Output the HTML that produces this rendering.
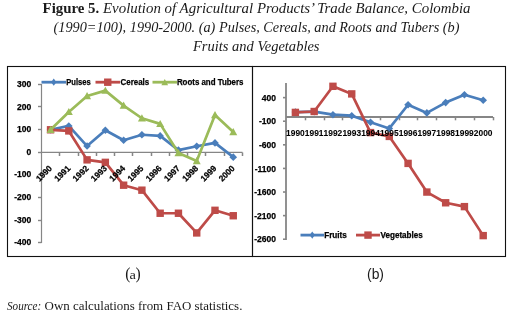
<!DOCTYPE html>
<html><head><meta charset="utf-8"><style>
html,body{margin:0;padding:0;background:#fff;width:511px;height:317px;overflow:hidden}
svg{display:block;will-change:transform}
</style></head><body>
<svg width="511" height="317" viewBox="0 0 511 317">
<rect x="7.5" y="66.5" width="245" height="190" fill="none" stroke="#111" stroke-width="1.1"/>
<rect x="252.5" y="66.5" width="253" height="190" fill="none" stroke="#111" stroke-width="1.1"/>
<text x="42.6" y="12.8" style="font-family:'Liberation Serif',serif;fill:#1a1a1a;font-weight:bold;font-size:14.5px" textLength="56.6" lengthAdjust="spacingAndGlyphs">Figure 5.</text>
<text x="103" y="12.8" style="font-family:'Liberation Serif',serif;fill:#1a1a1a;font-style:italic;font-size:14.5px" textLength="367.5" lengthAdjust="spacingAndGlyphs">Evolution of Agricultural Products’ Trade Balance, Colombia</text>
<text x="53.5" y="31.9" style="font-family:'Liberation Serif',serif;fill:#1a1a1a;font-style:italic;font-size:14.5px" textLength="406" lengthAdjust="spacingAndGlyphs">(1990=100), 1990-2000. (a) Pulses, Cereals, and Roots and Tubers (b)</text>
<text x="193" y="50.8" style="font-family:'Liberation Serif',serif;fill:#1a1a1a;font-style:italic;font-size:14.5px" textLength="126.5" lengthAdjust="spacingAndGlyphs">Fruits and Vegetables</text>
<text x="125.3" y="278.9" style="font-family:'Liberation Serif',serif;fill:#1a1a1a;font-size:16.5px" textLength="5.2" lengthAdjust="spacingAndGlyphs">(</text>
<text x="129.6" y="278.9" style="font-family:'Liberation Serif',serif;fill:#1a1a1a;font-size:13.2px" textLength="6.4" lengthAdjust="spacingAndGlyphs">a</text>
<text x="135.6" y="278.9" style="font-family:'Liberation Serif',serif;fill:#1a1a1a;font-size:16.5px" textLength="5.2" lengthAdjust="spacingAndGlyphs">)</text>
<text x="367" y="278.5" style="font-family:'Liberation Sans',sans-serif;fill:#1a1a1a;font-size:15.5px" textLength="17" lengthAdjust="spacingAndGlyphs">(b)</text>
<text x="7" y="309.7" style="font-family:'Liberation Serif',serif;fill:#1a1a1a;font-size:12.7px;font-style:italic" textLength="34.2" lengthAdjust="spacingAndGlyphs">Source:</text>
<text x="44.6" y="309.7" style="font-family:'Liberation Serif',serif;fill:#1a1a1a;font-size:12.7px" textLength="197.8" lengthAdjust="spacingAndGlyphs">Own calculations from FAO statistics.</text>
<line x1="41.5" y1="84" x2="41.5" y2="243" stroke="#868686" stroke-width="1.2"/>
<line x1="38" y1="84.5" x2="41.5" y2="84.5" stroke="#868686" stroke-width="1.4"/>
<text x="31.3" y="86.94" text-anchor="end" style="font-family:'Liberation Sans',sans-serif;font-weight:bold;fill:#000;font-size:8.5px;stroke:#000;stroke-width:0.25px">300</text>
<line x1="38" y1="106.5" x2="41.5" y2="106.5" stroke="#868686" stroke-width="1.4"/>
<text x="31.3" y="109.56" text-anchor="end" style="font-family:'Liberation Sans',sans-serif;font-weight:bold;fill:#000;font-size:8.5px;stroke:#000;stroke-width:0.25px">200</text>
<line x1="38" y1="129.5" x2="41.5" y2="129.5" stroke="#868686" stroke-width="1.4"/>
<text x="31.3" y="132.18" text-anchor="end" style="font-family:'Liberation Sans',sans-serif;font-weight:bold;fill:#000;font-size:8.5px;stroke:#000;stroke-width:0.25px">100</text>
<line x1="38" y1="152.5" x2="41.5" y2="152.5" stroke="#868686" stroke-width="1.4"/>
<text x="31.3" y="154.80" text-anchor="end" style="font-family:'Liberation Sans',sans-serif;font-weight:bold;fill:#000;font-size:8.5px;stroke:#000;stroke-width:0.25px">0</text>
<line x1="38" y1="174.5" x2="41.5" y2="174.5" stroke="#868686" stroke-width="1.4"/>
<text x="31.3" y="177.42" text-anchor="end" style="font-family:'Liberation Sans',sans-serif;font-weight:bold;fill:#000;font-size:8.5px;stroke:#000;stroke-width:0.25px">-100</text>
<line x1="38" y1="197.5" x2="41.5" y2="197.5" stroke="#868686" stroke-width="1.4"/>
<text x="31.3" y="200.04" text-anchor="end" style="font-family:'Liberation Sans',sans-serif;font-weight:bold;fill:#000;font-size:8.5px;stroke:#000;stroke-width:0.25px">-200</text>
<line x1="38" y1="220.5" x2="41.5" y2="220.5" stroke="#868686" stroke-width="1.4"/>
<text x="31.3" y="222.66" text-anchor="end" style="font-family:'Liberation Sans',sans-serif;font-weight:bold;fill:#000;font-size:8.5px;stroke:#000;stroke-width:0.25px">-300</text>
<line x1="38" y1="242.5" x2="41.5" y2="242.5" stroke="#868686" stroke-width="1.4"/>
<text x="31.3" y="245.28" text-anchor="end" style="font-family:'Liberation Sans',sans-serif;font-weight:bold;fill:#000;font-size:8.5px;stroke:#000;stroke-width:0.25px">-400</text>
<line x1="41" y1="152.4" x2="242.5" y2="152.4" stroke="#868686" stroke-width="1.3"/>
<line x1="59.5" y1="152.5" x2="59.5" y2="156" stroke="#868686" stroke-width="1.5"/>
<line x1="78.5" y1="152.5" x2="78.5" y2="156" stroke="#868686" stroke-width="1.5"/>
<line x1="96.5" y1="152.5" x2="96.5" y2="156" stroke="#868686" stroke-width="1.5"/>
<line x1="114.5" y1="152.5" x2="114.5" y2="156" stroke="#868686" stroke-width="1.5"/>
<line x1="132.5" y1="152.5" x2="132.5" y2="156" stroke="#868686" stroke-width="1.5"/>
<line x1="151.5" y1="152.5" x2="151.5" y2="156" stroke="#868686" stroke-width="1.5"/>
<line x1="169.5" y1="152.5" x2="169.5" y2="156" stroke="#868686" stroke-width="1.5"/>
<line x1="187.5" y1="152.5" x2="187.5" y2="156" stroke="#868686" stroke-width="1.5"/>
<line x1="205.5" y1="152.5" x2="205.5" y2="156" stroke="#868686" stroke-width="1.5"/>
<line x1="224.5" y1="152.5" x2="224.5" y2="156" stroke="#868686" stroke-width="1.5"/>
<line x1="242.5" y1="152.5" x2="242.5" y2="156" stroke="#868686" stroke-width="1.5"/>
<polyline points="50.54,129.78 68.81,125.93 87.08,146.07 105.35,130.23 123.63,140.19 141.90,134.76 160.17,135.89 178.45,150.14 196.72,146.29 214.99,142.90 233.26,157.15" fill="none" stroke="#4a7ebb" stroke-width="2.7" stroke-linejoin="round" stroke-linecap="round"/>
<path d="M50.54 125.98L54.34 129.78L50.54 133.58L46.74 129.78Z" fill="#4a7ebb"/>
<path d="M68.81 122.13L72.61 125.93L68.81 129.73L65.01 125.93Z" fill="#4a7ebb"/>
<path d="M87.08 142.27L90.88 146.07L87.08 149.87L83.28 146.07Z" fill="#4a7ebb"/>
<path d="M105.35 126.43L109.15 130.23L105.35 134.03L101.55 130.23Z" fill="#4a7ebb"/>
<path d="M123.63 136.39L127.43 140.19L123.63 143.99L119.83 140.19Z" fill="#4a7ebb"/>
<path d="M141.90 130.96L145.70 134.76L141.90 138.56L138.10 134.76Z" fill="#4a7ebb"/>
<path d="M160.17 132.09L163.97 135.89L160.17 139.69L156.37 135.89Z" fill="#4a7ebb"/>
<path d="M178.45 146.34L182.25 150.14L178.45 153.94L174.65 150.14Z" fill="#4a7ebb"/>
<path d="M196.72 142.49L200.52 146.29L196.72 150.09L192.92 146.29Z" fill="#4a7ebb"/>
<path d="M214.99 139.10L218.79 142.90L214.99 146.70L211.19 142.90Z" fill="#4a7ebb"/>
<path d="M233.26 153.35L237.06 157.15L233.26 160.95L229.46 157.15Z" fill="#4a7ebb"/>
<polyline points="50.54,129.78 68.81,130.91 87.08,159.86 105.35,162.35 123.63,185.20 141.90,190.18 160.17,213.25 178.45,213.25 196.72,232.93 214.99,210.31 233.26,215.74" fill="none" stroke="#be4b48" stroke-width="2.7" stroke-linejoin="round" stroke-linecap="round"/>
<rect x="46.84" y="126.08" width="7.40" height="7.40" fill="#be4b48"/>
<rect x="65.11" y="127.21" width="7.40" height="7.40" fill="#be4b48"/>
<rect x="83.38" y="156.16" width="7.40" height="7.40" fill="#be4b48"/>
<rect x="101.65" y="158.65" width="7.40" height="7.40" fill="#be4b48"/>
<rect x="119.93" y="181.50" width="7.40" height="7.40" fill="#be4b48"/>
<rect x="138.20" y="186.48" width="7.40" height="7.40" fill="#be4b48"/>
<rect x="156.47" y="209.55" width="7.40" height="7.40" fill="#be4b48"/>
<rect x="174.75" y="209.55" width="7.40" height="7.40" fill="#be4b48"/>
<rect x="193.02" y="229.23" width="7.40" height="7.40" fill="#be4b48"/>
<rect x="211.29" y="206.61" width="7.40" height="7.40" fill="#be4b48"/>
<rect x="229.56" y="212.04" width="7.40" height="7.40" fill="#be4b48"/>
<polyline points="50.54,129.78 68.81,111.91 87.08,96.08 105.35,90.65 123.63,105.58 141.90,118.24 160.17,123.90 178.45,153.08 196.72,161.00 214.99,115.08 233.26,132.04" fill="none" stroke="#9bbb59" stroke-width="2.7" stroke-linejoin="round" stroke-linecap="round"/>
<path d="M50.54 125.78L54.54 132.98L46.54 132.98Z" fill="#9bbb59"/>
<path d="M68.81 107.91L72.81 115.11L64.81 115.11Z" fill="#9bbb59"/>
<path d="M87.08 92.08L91.08 99.28L83.08 99.28Z" fill="#9bbb59"/>
<path d="M105.35 86.65L109.35 93.85L101.35 93.85Z" fill="#9bbb59"/>
<path d="M123.63 101.58L127.63 108.78L119.63 108.78Z" fill="#9bbb59"/>
<path d="M141.90 114.24L145.90 121.44L137.90 121.44Z" fill="#9bbb59"/>
<path d="M160.17 119.90L164.17 127.10L156.17 127.10Z" fill="#9bbb59"/>
<path d="M178.45 149.08L182.45 156.28L174.45 156.28Z" fill="#9bbb59"/>
<path d="M196.72 157.00L200.72 164.20L192.72 164.20Z" fill="#9bbb59"/>
<path d="M214.99 111.08L218.99 118.28L210.99 118.28Z" fill="#9bbb59"/>
<path d="M233.26 128.04L237.26 135.24L229.26 135.24Z" fill="#9bbb59"/>
<text x="0" y="0" text-anchor="end" transform="translate(52.64,169.00) rotate(-45)" style="font-family:'Liberation Sans',sans-serif;font-weight:bold;fill:#000;font-size:8.5px;stroke:#000;stroke-width:0.25px" textLength="18.5" lengthAdjust="spacingAndGlyphs">1990</text>
<text x="0" y="0" text-anchor="end" transform="translate(70.91,169.00) rotate(-45)" style="font-family:'Liberation Sans',sans-serif;font-weight:bold;fill:#000;font-size:8.5px;stroke:#000;stroke-width:0.25px" textLength="18.5" lengthAdjust="spacingAndGlyphs">1991</text>
<text x="0" y="0" text-anchor="end" transform="translate(89.18,169.00) rotate(-45)" style="font-family:'Liberation Sans',sans-serif;font-weight:bold;fill:#000;font-size:8.5px;stroke:#000;stroke-width:0.25px" textLength="18.5" lengthAdjust="spacingAndGlyphs">1992</text>
<text x="0" y="0" text-anchor="end" transform="translate(107.45,169.00) rotate(-45)" style="font-family:'Liberation Sans',sans-serif;font-weight:bold;fill:#000;font-size:8.5px;stroke:#000;stroke-width:0.25px" textLength="18.5" lengthAdjust="spacingAndGlyphs">1993</text>
<text x="0" y="0" text-anchor="end" transform="translate(125.73,169.00) rotate(-45)" style="font-family:'Liberation Sans',sans-serif;font-weight:bold;fill:#000;font-size:8.5px;stroke:#000;stroke-width:0.25px" textLength="18.5" lengthAdjust="spacingAndGlyphs">1994</text>
<text x="0" y="0" text-anchor="end" transform="translate(144.00,169.00) rotate(-45)" style="font-family:'Liberation Sans',sans-serif;font-weight:bold;fill:#000;font-size:8.5px;stroke:#000;stroke-width:0.25px" textLength="18.5" lengthAdjust="spacingAndGlyphs">1995</text>
<text x="0" y="0" text-anchor="end" transform="translate(162.27,169.00) rotate(-45)" style="font-family:'Liberation Sans',sans-serif;font-weight:bold;fill:#000;font-size:8.5px;stroke:#000;stroke-width:0.25px" textLength="18.5" lengthAdjust="spacingAndGlyphs">1996</text>
<text x="0" y="0" text-anchor="end" transform="translate(180.55,169.00) rotate(-45)" style="font-family:'Liberation Sans',sans-serif;font-weight:bold;fill:#000;font-size:8.5px;stroke:#000;stroke-width:0.25px" textLength="18.5" lengthAdjust="spacingAndGlyphs">1997</text>
<text x="0" y="0" text-anchor="end" transform="translate(198.82,169.00) rotate(-45)" style="font-family:'Liberation Sans',sans-serif;font-weight:bold;fill:#000;font-size:8.5px;stroke:#000;stroke-width:0.25px" textLength="18.5" lengthAdjust="spacingAndGlyphs">1998</text>
<text x="0" y="0" text-anchor="end" transform="translate(217.09,169.00) rotate(-45)" style="font-family:'Liberation Sans',sans-serif;font-weight:bold;fill:#000;font-size:8.5px;stroke:#000;stroke-width:0.25px" textLength="18.5" lengthAdjust="spacingAndGlyphs">1999</text>
<text x="0" y="0" text-anchor="end" transform="translate(235.36,169.00) rotate(-45)" style="font-family:'Liberation Sans',sans-serif;font-weight:bold;fill:#000;font-size:8.5px;stroke:#000;stroke-width:0.25px" textLength="18.5" lengthAdjust="spacingAndGlyphs">2000</text>
<line x1="41.5" y1="82.2" x2="66" y2="82.2" stroke="#4a7ebb" stroke-width="2.8"/>
<path d="M53.75 78.60L56.35 82.20L53.75 85.80L51.15 82.20Z" fill="#4a7ebb"/>
<text x="66.3" y="85.10000000000001" style="font-family:'Liberation Sans',sans-serif;font-weight:bold;fill:#000;font-size:8.5px;stroke:#000;stroke-width:0.25px" textLength="24.5" lengthAdjust="spacingAndGlyphs">Pulses</text>
<line x1="95.5" y1="82.2" x2="120" y2="82.2" stroke="#be4b48" stroke-width="2.8"/>
<rect x="104.05" y="78.50" width="7.40" height="7.40" fill="#be4b48"/>
<text x="120.5" y="85.10000000000001" style="font-family:'Liberation Sans',sans-serif;font-weight:bold;fill:#000;font-size:8.5px;stroke:#000;stroke-width:0.25px" textLength="28.7" lengthAdjust="spacingAndGlyphs">Cereals</text>
<line x1="152.5" y1="82.2" x2="177" y2="82.2" stroke="#9bbb59" stroke-width="2.8"/>
<path d="M164.75 79.10L168.15 85.22L161.35 85.22Z" fill="#9bbb59"/>
<text x="176.9" y="85.10000000000001" style="font-family:'Liberation Sans',sans-serif;font-weight:bold;fill:#000;font-size:8.5px;stroke:#000;stroke-width:0.25px" textLength="66.6" lengthAdjust="spacingAndGlyphs">Roots and Tubers</text>
<line x1="286" y1="83" x2="286" y2="240" stroke="#868686" stroke-width="1.8"/>
<line x1="283" y1="97.62" x2="286" y2="97.62" stroke="#868686" stroke-width="1.6"/>
<text x="276" y="100.72" text-anchor="end" style="font-family:'Liberation Sans',sans-serif;font-weight:bold;fill:#000;font-size:8.5px;stroke:#000;stroke-width:0.25px">400</text>
<line x1="283" y1="121.22" x2="286" y2="121.22" stroke="#868686" stroke-width="1.6"/>
<text x="276" y="124.32" text-anchor="end" style="font-family:'Liberation Sans',sans-serif;font-weight:bold;fill:#000;font-size:8.5px;stroke:#000;stroke-width:0.25px">-100</text>
<line x1="283" y1="144.82" x2="286" y2="144.82" stroke="#868686" stroke-width="1.6"/>
<text x="276" y="147.92" text-anchor="end" style="font-family:'Liberation Sans',sans-serif;font-weight:bold;fill:#000;font-size:8.5px;stroke:#000;stroke-width:0.25px">-600</text>
<line x1="283" y1="168.42" x2="286" y2="168.42" stroke="#868686" stroke-width="1.6"/>
<text x="276" y="171.52" text-anchor="end" style="font-family:'Liberation Sans',sans-serif;font-weight:bold;fill:#000;font-size:8.5px;stroke:#000;stroke-width:0.25px">-1100</text>
<line x1="283" y1="192.02" x2="286" y2="192.02" stroke="#868686" stroke-width="1.6"/>
<text x="276" y="195.12" text-anchor="end" style="font-family:'Liberation Sans',sans-serif;font-weight:bold;fill:#000;font-size:8.5px;stroke:#000;stroke-width:0.25px">-1600</text>
<line x1="283" y1="215.62" x2="286" y2="215.62" stroke="#868686" stroke-width="1.6"/>
<text x="276" y="218.72" text-anchor="end" style="font-family:'Liberation Sans',sans-serif;font-weight:bold;fill:#000;font-size:8.5px;stroke:#000;stroke-width:0.25px">-2100</text>
<line x1="283" y1="239.22" x2="286" y2="239.22" stroke="#868686" stroke-width="1.6"/>
<text x="276" y="242.32" text-anchor="end" style="font-family:'Liberation Sans',sans-serif;font-weight:bold;fill:#000;font-size:8.5px;stroke:#000;stroke-width:0.25px">-2600</text>
<line x1="286" y1="117" x2="493" y2="117" stroke="#868686" stroke-width="1.8"/>
<line x1="305.5" y1="117" x2="305.5" y2="120.3" stroke="#868686" stroke-width="1.5"/>
<line x1="324.5" y1="117" x2="324.5" y2="120.3" stroke="#868686" stroke-width="1.5"/>
<line x1="342.5" y1="117" x2="342.5" y2="120.3" stroke="#868686" stroke-width="1.5"/>
<line x1="361.5" y1="117" x2="361.5" y2="120.3" stroke="#868686" stroke-width="1.5"/>
<line x1="380.5" y1="117" x2="380.5" y2="120.3" stroke="#868686" stroke-width="1.5"/>
<line x1="399.5" y1="117" x2="399.5" y2="120.3" stroke="#868686" stroke-width="1.5"/>
<line x1="417.5" y1="117" x2="417.5" y2="120.3" stroke="#868686" stroke-width="1.5"/>
<line x1="436.5" y1="117" x2="436.5" y2="120.3" stroke="#868686" stroke-width="1.5"/>
<line x1="455.5" y1="117" x2="455.5" y2="120.3" stroke="#868686" stroke-width="1.5"/>
<line x1="474.5" y1="117" x2="474.5" y2="120.3" stroke="#868686" stroke-width="1.5"/>
<line x1="493.5" y1="117" x2="493.5" y2="120.3" stroke="#868686" stroke-width="1.5"/>
<polyline points="295.39,112.12 314.17,111.65 332.95,114.69 351.74,115.68 370.52,122.28 389.30,128.41 408.08,104.72 426.86,112.91 445.65,102.61 464.43,94.70 483.21,100.32" fill="none" stroke="#4a7ebb" stroke-width="2.7" stroke-linejoin="round" stroke-linecap="round"/>
<path d="M295.39 108.32L299.19 112.12L295.39 115.92L291.59 112.12Z" fill="#4a7ebb"/>
<path d="M314.17 107.85L317.97 111.65L314.17 115.45L310.37 111.65Z" fill="#4a7ebb"/>
<path d="M332.95 110.89L336.75 114.69L332.95 118.49L329.15 114.69Z" fill="#4a7ebb"/>
<path d="M351.74 111.88L355.54 115.68L351.74 119.48L347.94 115.68Z" fill="#4a7ebb"/>
<path d="M370.52 118.48L374.32 122.28L370.52 126.08L366.72 122.28Z" fill="#4a7ebb"/>
<path d="M389.30 124.61L393.10 128.41L389.30 132.21L385.50 128.41Z" fill="#4a7ebb"/>
<path d="M408.08 100.92L411.88 104.72L408.08 108.52L404.28 104.72Z" fill="#4a7ebb"/>
<path d="M426.86 109.11L430.66 112.91L426.86 116.71L423.06 112.91Z" fill="#4a7ebb"/>
<path d="M445.65 98.81L449.45 102.61L445.65 106.41L441.85 102.61Z" fill="#4a7ebb"/>
<path d="M464.43 90.90L468.23 94.70L464.43 98.50L460.63 94.70Z" fill="#4a7ebb"/>
<path d="M483.21 96.52L487.01 100.32L483.21 104.12L479.41 100.32Z" fill="#4a7ebb"/>
<polyline points="295.39,112.40 314.17,111.51 332.95,86.31 351.74,93.90 370.52,132.58 389.30,136.42 408.08,163.40 426.86,192.06 445.65,202.78 464.43,206.62 483.21,235.61" fill="none" stroke="#be4b48" stroke-width="2.7" stroke-linejoin="round" stroke-linecap="round"/>
<rect x="291.69" y="108.70" width="7.40" height="7.40" fill="#be4b48"/>
<rect x="310.47" y="107.81" width="7.40" height="7.40" fill="#be4b48"/>
<rect x="329.25" y="82.61" width="7.40" height="7.40" fill="#be4b48"/>
<rect x="348.04" y="90.20" width="7.40" height="7.40" fill="#be4b48"/>
<rect x="366.82" y="128.88" width="7.40" height="7.40" fill="#be4b48"/>
<rect x="385.60" y="132.72" width="7.40" height="7.40" fill="#be4b48"/>
<rect x="404.38" y="159.70" width="7.40" height="7.40" fill="#be4b48"/>
<rect x="423.16" y="188.36" width="7.40" height="7.40" fill="#be4b48"/>
<rect x="441.95" y="199.08" width="7.40" height="7.40" fill="#be4b48"/>
<rect x="460.73" y="202.92" width="7.40" height="7.40" fill="#be4b48"/>
<rect x="479.51" y="231.91" width="7.40" height="7.40" fill="#be4b48"/>
<text x="295.39" y="135.5" text-anchor="middle" style="font-family:'Liberation Sans',sans-serif;font-weight:bold;fill:#000;font-size:8.5px;stroke:#000;stroke-width:0.25px;stroke-width:0.08px" textLength="18.7" lengthAdjust="spacingAndGlyphs">1990</text>
<text x="314.17" y="135.5" text-anchor="middle" style="font-family:'Liberation Sans',sans-serif;font-weight:bold;fill:#000;font-size:8.5px;stroke:#000;stroke-width:0.25px;stroke-width:0.08px" textLength="18.7" lengthAdjust="spacingAndGlyphs">1991</text>
<text x="332.95" y="135.5" text-anchor="middle" style="font-family:'Liberation Sans',sans-serif;font-weight:bold;fill:#000;font-size:8.5px;stroke:#000;stroke-width:0.25px;stroke-width:0.08px" textLength="18.7" lengthAdjust="spacingAndGlyphs">1992</text>
<text x="351.74" y="135.5" text-anchor="middle" style="font-family:'Liberation Sans',sans-serif;font-weight:bold;fill:#000;font-size:8.5px;stroke:#000;stroke-width:0.25px;stroke-width:0.08px" textLength="18.7" lengthAdjust="spacingAndGlyphs">1993</text>
<text x="370.52" y="135.5" text-anchor="middle" style="font-family:'Liberation Sans',sans-serif;font-weight:bold;fill:#000;font-size:8.5px;stroke:#000;stroke-width:0.25px;stroke-width:0.08px" textLength="18.7" lengthAdjust="spacingAndGlyphs">1994</text>
<text x="389.30" y="135.5" text-anchor="middle" style="font-family:'Liberation Sans',sans-serif;font-weight:bold;fill:#000;font-size:8.5px;stroke:#000;stroke-width:0.25px;stroke-width:0.08px" textLength="18.7" lengthAdjust="spacingAndGlyphs">1995</text>
<text x="408.08" y="135.5" text-anchor="middle" style="font-family:'Liberation Sans',sans-serif;font-weight:bold;fill:#000;font-size:8.5px;stroke:#000;stroke-width:0.25px;stroke-width:0.08px" textLength="18.7" lengthAdjust="spacingAndGlyphs">1996</text>
<text x="426.86" y="135.5" text-anchor="middle" style="font-family:'Liberation Sans',sans-serif;font-weight:bold;fill:#000;font-size:8.5px;stroke:#000;stroke-width:0.25px;stroke-width:0.08px" textLength="18.7" lengthAdjust="spacingAndGlyphs">1997</text>
<text x="445.65" y="135.5" text-anchor="middle" style="font-family:'Liberation Sans',sans-serif;font-weight:bold;fill:#000;font-size:8.5px;stroke:#000;stroke-width:0.25px;stroke-width:0.08px" textLength="18.7" lengthAdjust="spacingAndGlyphs">1998</text>
<text x="464.43" y="135.5" text-anchor="middle" style="font-family:'Liberation Sans',sans-serif;font-weight:bold;fill:#000;font-size:8.5px;stroke:#000;stroke-width:0.25px;stroke-width:0.08px" textLength="18.7" lengthAdjust="spacingAndGlyphs">1999</text>
<text x="483.21" y="135.5" text-anchor="middle" style="font-family:'Liberation Sans',sans-serif;font-weight:bold;fill:#000;font-size:8.5px;stroke:#000;stroke-width:0.25px;stroke-width:0.08px" textLength="18.7" lengthAdjust="spacingAndGlyphs">2000</text>
<line x1="300.5" y1="235.1" x2="324" y2="235.1" stroke="#4a7ebb" stroke-width="2.8"/>
<path d="M312.25 231.50L314.85 235.10L312.25 238.70L309.65 235.10Z" fill="#4a7ebb"/>
<text x="324.2" y="238.0" style="font-family:'Liberation Sans',sans-serif;font-weight:bold;fill:#000;font-size:8.5px;stroke:#000;stroke-width:0.25px" textLength="22.7" lengthAdjust="spacingAndGlyphs">Fruits</text>
<line x1="356" y1="235.1" x2="380" y2="235.1" stroke="#be4b48" stroke-width="2.8"/>
<rect x="364.30" y="231.40" width="7.40" height="7.40" fill="#be4b48"/>
<text x="380.5" y="238.0" style="font-family:'Liberation Sans',sans-serif;font-weight:bold;fill:#000;font-size:8.5px;stroke:#000;stroke-width:0.25px" textLength="42.3" lengthAdjust="spacingAndGlyphs">Vegetables</text>
</svg>
</body></html>
